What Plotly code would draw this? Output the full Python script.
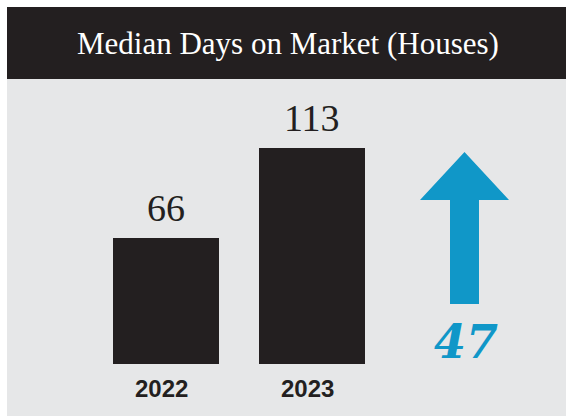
import plotly.graph_objects as go

title = "Median Days on Market (Houses)"
years = ["2022", "2023"]
days = [66, 113]
change = days[1] - days[0]

W, H = 566, 416
DARK = "#231f20"
GRAY = "#e6e7e8"
BLUE = "#1097c8"

# axis mapping: bars centered at px 166 and 312, zero at px 364
px_per_cat = 146.0
x0_px = 166.0
xr = [(0 - x0_px) / px_per_cat, (W - x0_px) / px_per_cat]
ppu = 1.91
zero_px = 364.0
yr = [-(H - zero_px) / ppu, zero_px / ppu]

fig = go.Figure()
fig.add_trace(go.Bar(
    x=[0, 1], y=days, width=106 / px_per_cat,
    marker=dict(color=DARK, line=dict(width=0)),
    hoverinfo="skip",
))

shapes = [
    dict(type="rect", xref="paper", yref="paper", x0=7 / W, x1=1, y0=0, y1=1 - 79 / H,
         fillcolor=GRAY, line=dict(width=0), layer="below"),
    dict(type="rect", xref="paper", yref="paper", x0=7 / W, x1=1, y0=1 - 79 / H, y1=1 - 7 / H,
         fillcolor=DARK, line=dict(width=0), layer="below"),
]

def X(px):
    return (px - x0_px) / px_per_cat
def Y(py):
    return (zero_px - py) / ppu

pts = [(450, 304), (450, 200), (420, 200), (464.5, 152), (509, 200), (479, 200), (479, 304)]
path = "M " + " L ".join(f"{X(a):.4f},{Y(b):.4f}" for a, b in pts) + " Z"
shapes.append(dict(type="path", xref="x", yref="y", path=path,
                   fillcolor=BLUE, line=dict(width=0)))

annotations = [
    dict(text=title, xref="paper", yref="paper", x=288 / W, y=1 - 44 / H,
         showarrow=False, font=dict(family="Liberation Serif", size=31, color="white"),
         xanchor="center", yanchor="middle"),
    dict(text=f"<b><i>{change}</i></b>", xref="x", yref="y", x=X(466), y=Y(342),
         showarrow=False, font=dict(family="DejaVu Serif", size=46, color=BLUE),
         xanchor="center", yanchor="middle"),
]
for i, v in enumerate(days):
    annotations.append(dict(text=str(v), xref="x", yref="y", x=i, y=v, yshift=30,
                            showarrow=False, font=dict(family="Liberation Serif", size=38, color=DARK),
                            xanchor="center", yanchor="middle"))
for i, yrs in enumerate(years):
    annotations.append(dict(text=f"<b>{yrs}</b>", xref="x", yref="y", x=i - 5 / px_per_cat, y=Y(388),
                            showarrow=False, font=dict(family="Liberation Sans", size=24, color=DARK),
                            xanchor="center", yanchor="middle"))

fig.update_layout(
    width=W, height=H, margin=dict(l=0, r=0, t=0, b=0),
    paper_bgcolor="white", plot_bgcolor="rgba(0,0,0,0)",
    showlegend=False, shapes=shapes, annotations=annotations,
    xaxis=dict(range=xr, visible=False, fixedrange=True),
    yaxis=dict(range=yr, visible=False, fixedrange=True),
    bargap=0,
)
fig.write_html("out.html", config={"displayModeBar": False},
               post_script="document.body.style.margin='0';document.body.style.overflow='hidden';")
